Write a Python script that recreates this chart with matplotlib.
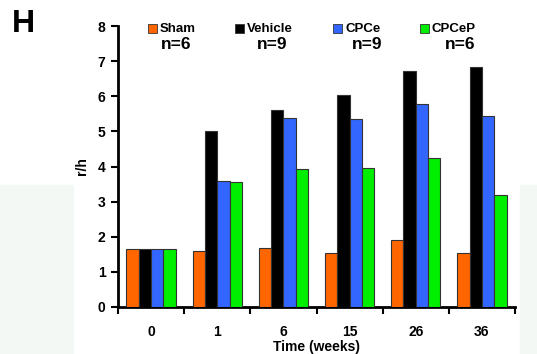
import numpy as np
import matplotlib.pyplot as plt
from matplotlib.patches import Rectangle

plt.rcParams['font.family'] = ['Liberation Sans', 'DejaVu Sans']
plt.rcParams['font.weight'] = 'bold'

weeks = ['0', '1', '6', '15', '26', '36']
groups = ['Sham', 'Vehicle', 'CPCe', 'CPCeP']
n_labels = ['n=6', 'n=9', 'n=9', 'n=6']
colors = ['#ff6600', '#000000', '#3366ff', '#00ee00']

sham = [1.65, 1.60, 1.68, 1.55, 1.92, 1.53]
vehicle = [1.65, 5.00, 5.62, 6.03, 6.72, 6.82]
cpce = [1.65, 3.60, 5.38, 5.35, 5.77, 5.43]
cpcep = [1.65, 3.55, 3.93, 3.95, 4.25, 3.18]
series = [sham, vehicle, cpce, cpcep]

fig = plt.figure(figsize=(5.37, 3.54), dpi=100)

# faint background panels behind the chart
fig.patches.append(Rectangle((0, 0), 73/537, 1-185/354, transform=fig.transFigure,
                             color='#f4f8f5', zorder=0))
fig.patches.append(Rectangle((520/537, 0), 17/537, 1-185/354, transform=fig.transFigure,
                             color='#f4f8f5', zorder=0))

ax = fig.add_axes([118/537, 1-307/354, 397/537, 281/354])
ax.patch.set_alpha(0)

x = np.arange(len(weeks)) + 0.5
w = 0.186
for i, vals in enumerate(series):
    ax.bar(x + (i - 1.5) * w, vals, width=w, color=colors[i],
           edgecolor='#333333', linewidth=0.8, zorder=3)

ax.set_xlim(0, 6)
ax.set_ylim(0, 8)
ax.set_yticks(range(9))
ax.set_xticks(range(7))
ax.set_xticklabels([])
ax.set_xticks(x, minor=True)
ax.set_xticklabels(weeks, minor=True)
ax.tick_params(axis='x', which='minor', length=0, pad=13, labelsize=10)
ax.tick_params(axis='x', which='major', length=5, width=1.5, direction='out')
ax.tick_params(axis='y', length=5, width=1.5, direction='out', labelsize=10, pad=4)
for s in ['top', 'right']:
    ax.spines[s].set_visible(False)
for s in ['left', 'bottom']:
    ax.spines[s].set_linewidth(2)

ax.set_ylabel('r/h', fontsize=10, fontweight='bold', labelpad=6)
ax.set_xlabel('Time (weeks)', fontsize=10, fontweight='bold', labelpad=1)

# legend drawn manually with n= labels underneath
leg_x = [148, 235, 333, 420]
n_x = [176, 272, 367, 460]
for i, g in enumerate(groups):
    fig.patches.append(Rectangle((leg_x[i]/537, 1-33/354), 9/537, 9/354,
                                 transform=fig.transFigure, facecolor=colors[i],
                                 edgecolor='#333333', linewidth=0.6))
    fig.text((leg_x[i]+12)/537, 1-28.5/354, g, fontsize=9.5, fontweight='bold',
             va='center', ha='left')
    fig.text(n_x[i]/537, 1-44.5/354, n_labels[i], fontsize=12.5, fontweight='bold',
             va='center', ha='center')

fig.text(12/537, 1-23.5/354, 'H', fontsize=23, fontweight='bold', va='center', ha='left')

fig.savefig('out.png', dpi=100)
